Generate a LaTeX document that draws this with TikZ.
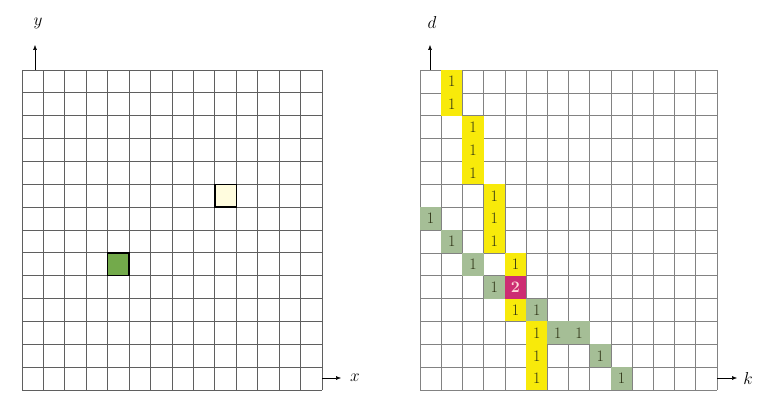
\documentclass[tikz,border=0pt]{standalone}
\usetikzlibrary{arrows.meta}
\definecolor{gridL}{RGB}{95,95,95}
\definecolor{gridR}{RGB}{130,130,130}
\definecolor{cellY}{RGB}{248,234,10}
\definecolor{cellG}{RGB}{165,190,150}
\definecolor{cellM}{RGB}{205,45,115}
\definecolor{leftG}{RGB}{115,170,75}
\definecolor{paleY}{RGB}{255,252,222}
\definecolor{digit}{RGB}{45,50,20}
\tikzset{
  gridlineL/.style={draw=gridL, line width=0.75pt},
  gridlineR/.style={draw=gridR, line width=0.65pt},
  axisarrow/.style={draw=black, line width=0.5pt, -{Latex[length=5pt,width=4pt]}},
  axislabel/.style={font=\fontsize{19}{19}\selectfont, inner sep=0pt},
  rcell/.style={minimum width=21.2pt, minimum height=22.86pt, inner sep=0pt, outer sep=0pt,
     font=\fontsize{16}{16}\selectfont, text=digit},
  ycell/.style={rcell, fill=cellY},
  gcell/.style={rcell, fill=cellG},
  mcell/.style={rcell, fill=cellM, text=pink!60, font=\bfseries\fontsize{16}{16}\selectfont},
  lcell/.style={minimum width=21.43pt, minimum height=22.86pt, inner sep=0pt, draw=black, line width=1.3pt},
}
\begin{document}
\begin{tikzpicture}[x=1pt,y=-1pt]
\useasboundingbox (0,0) rectangle (759,412);
\fill[white] (0,0) rectangle (759,412);
% ---------- left grid ----------
\foreach \i in {0,...,14} {
  \draw[gridlineL] ({22+\i*300/14},70) -- ({22+\i*300/14},390);
  \draw[gridlineL] (22,{70+\i*320/14}) -- (322,{70+\i*320/14});
}
\node[lcell, fill=leftG] (greensq) at ({22+4.5*300/14},{70+8.5*320/14}) {};
\node[lcell, fill=paleY] (yellowsq) at ({22+9.5*300/14},{70+5.5*320/14}) {};
\coordinate (ybase) at (35,70);
\coordinate (ytip) at (35,45);
\draw[axisarrow] (ybase) -- (ytip);
\node[axislabel] (ylab) at (38,23) {$y$};
\coordinate (xbase) at (322,378);
\coordinate (xtip) at (341,378);
\draw[axisarrow] (xbase) -- (xtip);
\node[axislabel] (xlab) at (355,378) {$x$};
% ---------- right grid ----------
\foreach \i in {0,...,14} {
  \draw[gridlineR] ({420+\i*297/14},70) -- ({420+\i*297/14},390);
  \draw[gridlineR] (420,{70+\i*320/14}) -- (717,{70+\i*320/14});
}
% yellow cells: (col,row)
\foreach \c/\r [count=\n] in {1/0,1/1,2/2,2/3,2/4,3/5,3/6,3/7,4/8,4/10,5/11,5/12,5/13} {
  \node[ycell] (y\n) at ({420+(\c+0.5)*297/14},{70+(\r+0.5)*320/14}) {1};
}
% green cells
\foreach \c/\r [count=\n] in {0/6,1/7,2/8,3/9,5/10,6/11,7/11,8/12,9/13} {
  \node[gcell] (g\n) at ({420+(\c+0.5)*297/14},{70+(\r+0.5)*320/14}) {1};
}
\node[mcell] (m1) at ({420+4.5*297/14},{70+9.5*320/14}) {2};
\coordinate (dbase) at (430,70);
\coordinate (dtip) at (430,45);
\draw[axisarrow] (dbase) -- (dtip);
\node[axislabel] (dlab) at (432,23) {$d$};
\coordinate (kbase) at (717,378);
\coordinate (ktip) at (737,378);
\draw[axisarrow] (kbase) -- (ktip);
\node[axislabel] (klab) at (748,378) {$k$};
\end{tikzpicture}
\end{document}
